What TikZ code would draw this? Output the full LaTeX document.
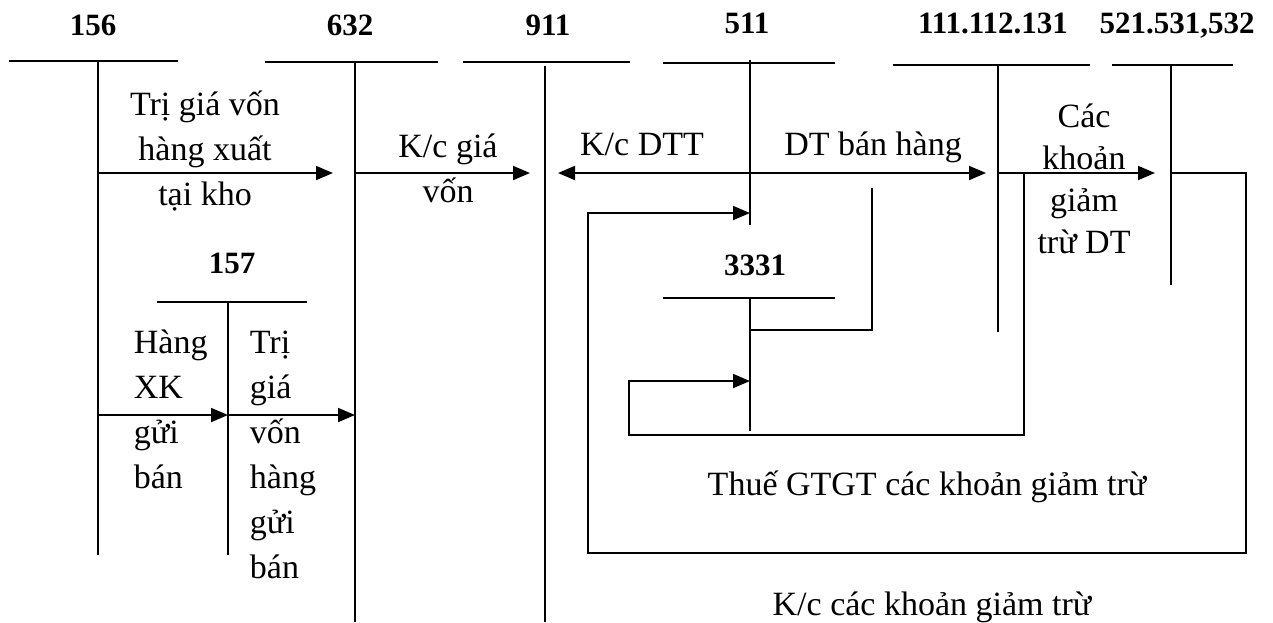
\documentclass[tikz,border=0pt]{standalone}
\usepackage{fontspec}
\setmainfont{Liberation Serif}
\usetikzlibrary{arrows.meta}

\tikzset{
  acc/.style={font=\fontsize{15.5}{18}\selectfont\bfseries, anchor=base, inner sep=0pt},
  txt/.style={font=\fontsize{17}{22.5}\selectfont, anchor=base, align=center, inner sep=0pt},
  arr/.style={-{Triangle[length=8.5pt,width=7pt]}},
}

\begin{document}
\begin{tikzpicture}[x=0.5pt, y=-0.5pt, line width=0.9pt]
  \useasboundingbox (0,0) rectangle (1273,622);
  % account titles
  \node[acc] (n156) at (93,35) {156};
  \node[acc] (n632) at (350,35) {632};
  \node[acc] (n911) at (548,35) {911};
  \node[acc] (n511) at (747,33) {511};
  \node[acc] (n111) at (993,33) {111.112.131};
  \node[acc] (n521) at (1177,33) {521.531,532};
  \node[acc] (n157) at (232,273) {157};
  \node[acc] (n3331) at (755,275) {3331};
  % T accounts
  \draw (9,61) -- (178,61);
  \draw (98,61) -- (98,555);
  \draw (265,62) -- (438,62);
  \draw (355,62) -- (355,622);
  \draw (463,62) -- (630,62);
  \draw (545,66) -- (545,622);
  \draw (663,63) -- (835,63);
  \draw (750,60) -- (750,225);
  \draw (893,65) -- (1090,65);
  \draw (998,65) -- (998,332);
  \draw (1112,65) -- (1233,65);
  \draw (1171,65) -- (1171,285);
  \draw (157,302) -- (307,302);
  \draw (228,302) -- (228,555);
  \draw (663,298) -- (835,298);
  \draw (750,298) -- (750,431);
  % points on the accounts
  \coordinate (r156) at (98,173);
  \coordinate (r632) at (355,173);
  \coordinate (r911) at (545,173);
  \coordinate (r511) at (750,173);
  \coordinate (r111) at (998,173);
  \coordinate (r521) at (1171,173);
  \coordinate (g111) at (1024,173);
  \coordinate (k511) at (750,213);
  \coordinate (t3331) at (750,330);
  \coordinate (e511) at (872,188);
  \coordinate (k3331) at (750,381);
  \coordinate (s156) at (98,415);
  \coordinate (s157) at (228,415);
  \coordinate (s632) at (355,415);
  % entries
  \draw[arr, shorten >=11pt] (r156) -- (r632);
  \draw[arr, shorten >=7.5pt] (r632) -- (r911);
  \draw[arr, shorten >=6.5pt] (r511) -- (r911);
  \draw[arr, shorten >=6pt] (r511) -- (r111);
  \draw[arr, shorten >=8pt] (r111) -- (r521);
  \draw[arr] (s156) -- (s157);
  \draw[arr] (s157) -- (s632);
  \draw[arr] (r521) -- (1246,173) -- (1246,553) -- (588,553) -- (588,213) -- (k511);
  \draw[arr] (g111) -- (1024,435) -- (629,435) -- (629,381) -- (k3331);
  \draw (t3331) -- (872,330) -- (e511);
  % texts
  \node[txt] (l1) at (205,205) {Trị giá vốn\\hàng xuất\\tại kho};
  \node[txt] (l2) at (448,202) {K/c giá\\vốn};
  \node[txt] (l3) at (642,155) {K/c DTT};
  \node[txt] (l4) at (873,155) {DT bán hàng};
  \node[txt, font=\fontsize{17}{21}\selectfont] (l5) at (1084,253) {Các\\khoản\\giảm\\trừ DT};
  \node[txt, anchor=base west, align=left] (l6) at (133,488) {Hàng\\XK\\gửi\\bán};
  \node[txt, anchor=base west, align=left] (l7) at (249,578) {Trị\\giá\\vốn\\hàng\\gửi\\bán};
  \node[txt] (l8) at (927,495) {Thuế GTGT các khoản giảm trừ};
  \node[txt] (l9) at (932,615) {K/c các khoản giảm trừ};
\end{tikzpicture}
\end{document}
